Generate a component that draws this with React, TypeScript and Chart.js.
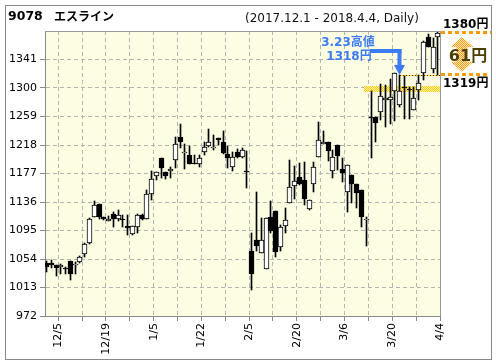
import React, { useEffect, useRef } from 'react';
import { Chart, registerables } from 'chart.js';
Chart.register(...registerables);

const dates = [
  '12/1','12/4','12/5','12/6','12/7','12/8','12/11','12/12','12/13','12/14','12/15','12/18','12/19','12/20','12/21','12/22','12/25','12/26','12/27','12/28','12/29',
  '1/4','1/5','1/9','1/10','1/11','1/12','1/15','1/16','1/17','1/18','1/19','1/22','1/23','1/24','1/25','1/26','1/29','1/30','1/31',
  '2/1','2/2','2/5','2/6','2/7','2/8','2/9','2/13','2/14','2/15','2/16','2/19','2/20','2/21','2/22','2/23','2/26','2/27','2/28',
  '3/1','3/2','3/5','3/6','3/7','3/8','3/9','3/12','3/13','3/14','3/15','3/16','3/19','3/20','3/22','3/23','3/26','3/27','3/28','3/29','3/30',
  '4/2','4/3','4/4',
];
const opens = [
  1048,1048,1045,1043,1041,1051,1046,1049,1061,1077,1115,1133,1114,1109,1119,1111,1112,1102,1090,1100,1118,
  1111,1148,1174,1199,1179,1181,1197,1229,1207,1204,1192,1190,1208,1216,1214,1228,1222,1205,1187,
  1208,1201,1180,1066,1081,1062,1039,1114,1123,1071,1102,1134,1159,1172,1168,1126,1162,1201,1219,
  1222,1180,1218,1183,1151,1175,1162,1153,1110,1258,1259,1266,1283,1283,1296,1276,1301,1299,1268,1297,1321,
  1374,1328,1374,
];
const highs = [
  1051,1052,1046,1047,1043,1051,1050,1059,1077,1113,1137,1133,1115,1116,1121,1125,1117,1117,1102,1119,1119,
  1153,1180,1179,1199,1179,1187,1230,1248,1219,1217,1204,1204,1222,1241,1232,1228,1238,1216,1208,
  1212,1213,1209,1092,1151,1113,1113,1137,1123,1103,1127,1197,1188,1192,1194,1139,1194,1251,1238,
  1222,1211,1218,1199,1189,1175,1162,1153,1115,1295,1259,1306,1305,1313,1322,1318,1317,1302,1302,1318,1367,
  1377,1372,1380,
];
const lows = [
  1036,1041,1030,1033,1032,1024,1033,1048,1057,1076,1114,1111,1110,1108,1100,1109,1100,1089,1089,1091,1110,
  1111,1139,1168,1170,1169,1170,1185,1213,1183,1190,1190,1187,1203,1215,1211,1218,1205,1185,1181,
  1200,1200,1156,1010,1065,1062,1039,1091,1057,1065,1092,1134,1141,1161,1132,1125,1151,1201,1219,
  1195,1171,1182,1165,1122,1134,1127,1100,1072,1199,1223,1254,1244,1248,1252,1273,1256,1256,1268,1283,1311,
  1359,1321,1318,
];
const closes = [
  1042,1046,1041,1046,1039,1032,1047,1057,1075,1111,1132,1115,1112,1112,1111,1117,1111,1098,1101,1118,1111,
  1147,1169,1179,1185,1174,1183,1219,1223,1208,1190,1190,1200,1215,1222,1215,1225,1207,1200,1201,
  1201,1211,1179,1032,1073,1082,1113,1095,1064,1100,1110,1157,1166,1162,1140,1139,1186,1225,1222,
  1210,1201,1202,1178,1189,1162,1149,1115,1111,1257,1249,1288,1286,1287,1322,1295,1300,1298,1285,1307,1366,
  1359,1359,1379,
];
const xLabelDates = ['12/5','12/19','1/5','1/22','2/5','2/20','3/6','3/20','4/4'];
const gridDates = ['12/5','12/12','12/19','12/26','1/5','1/15','1/22','1/29','2/5','2/13','2/20','2/27','3/6','3/13','3/20','3/28','4/4'];
const yTicks = [972, 1013, 1054, 1095, 1136, 1177, 1218, 1259, 1300, 1341];
const Y_MIN = 972;
const Y_MAX = 1382;
const highPrice = 1318;
const highDate = '3/23';
const breakoutPrice = 1319;
const topPrice = 1380;
const gainText = '61円';
const bandLow = 1295.5;
const bandHigh = 1303.5;
const bandStart = 66.6;
const titleCode = '9078';
const titleName = 'エスライン';
const periodText = '(2017.12.1 - 2018.4.4, Daily)';

const GRID_SHIFT = 0.45;

function makeChecker(ctx: CanvasRenderingContext2D, c1: string, c2: string) {
  const p = document.createElement('canvas');
  p.width = 2; p.height = 2;
  const g = p.getContext('2d')!;
  g.fillStyle = c2; g.fillRect(0, 0, 2, 2);
  g.fillStyle = c1; g.fillRect(0, 0, 1, 1); g.fillRect(1, 1, 1, 1);
  return ctx.createPattern(p, 'repeat')!;
}

const decor = {
  id: 'decor',
  beforeDraw(chart: any) {
    const { ctx, chartArea: a } = chart;
    ctx.save();
    ctx.fillStyle = '#ffffff';
    ctx.fillRect(0, 0, chart.width, chart.height);
    ctx.fillStyle = '#fdfde2';
    ctx.fillRect(a.left, a.top, a.right - a.left, a.bottom - a.top);
    ctx.strokeStyle = '#888';
    ctx.lineWidth = 1;
    ctx.strokeRect(5.5, 5.5, 486, 354);
    ctx.restore();
  },
  beforeDatasetsDraw(chart: any) {
    const { ctx, chartArea: a, scales } = chart;
    const xs = scales.x, ys = scales.y;
    // snap candle elements to the pixel grid so they render crisply
    chart.getSortedVisibleDatasetMetas().forEach((meta: any) => {
      meta.data.forEach((el: any) => {
        el.x = Math.floor(el.x) + 0.5;
        el.y = Math.round(el.y);
        el.base = Math.round(el.base);
        if (Math.abs(el.base - el.y) < 1) el.base = el.y + 1;
      });
    });
    ctx.save();
    // yellow band
    const bx = xs.getPixelForValue(bandStart);
    const by1 = ys.getPixelForValue(bandHigh);
    const by2 = ys.getPixelForValue(bandLow);
    ctx.fillStyle = makeChecker(ctx, '#ffc800', '#fff4b0');
    ctx.fillRect(Math.round(bx), Math.round(by1), Math.round(a.right - bx), Math.round(by2 - by1));
    // dotted line at high price
    const hx = xs.getPixelForValue(dates.indexOf(highDate));
    const hy = Math.round(ys.getPixelForValue(highPrice)) + 0.5;
    ctx.strokeStyle = '#ffd400';
    ctx.lineWidth = 1;
    ctx.beginPath(); ctx.moveTo(Math.round(hx), hy); ctx.lineTo(a.right, hy); ctx.stroke();
    ctx.strokeStyle = '#333';
    ctx.setLineDash([1, 2]);
    ctx.beginPath(); ctx.moveTo(Math.round(hx), hy); ctx.lineTo(a.right, hy); ctx.stroke();
    ctx.setLineDash([]);
    ctx.restore();
  },
  afterDraw(chart: any) {
    const { ctx, chartArea: a, scales } = chart;
    const xs = scales.x, ys = scales.y;
    ctx.save();
    // plot top/right border
    ctx.strokeStyle = '#999';
    ctx.lineWidth = 1;
    ctx.beginPath();
    ctx.moveTo(Math.round(a.left), Math.round(a.top) + 0.5);
    ctx.lineTo(Math.round(a.right) + 0.5, Math.round(a.top) + 0.5);
    ctx.lineTo(Math.round(a.right) + 0.5, Math.round(a.bottom));
    ctx.stroke();

    // title
    ctx.fillStyle = '#000';
    ctx.textBaseline = 'middle';
    ctx.textAlign = 'left';
    ctx.font = 'bold 12.5px "DejaVu Sans", "Noto Sans CJK JP", sans-serif';
    ctx.fillText(titleCode, 8, 16.5);
    ctx.font = 'bold 12px "Noto Sans CJK JP", sans-serif';
    ctx.fillText(titleName, 54, 16.5);
    ctx.font = '12px "DejaVu Sans", sans-serif';
    ctx.fillStyle = '#111';
    ctx.fillText(periodText, 245, 19);

    // blue annotation
    const hx = xs.getPixelForValue(dates.indexOf(highDate));
    const hy = ys.getPixelForValue(highPrice);
    const blue = '#3b7cf4';
    ctx.fillStyle = blue;
    const cx = Math.round(hx) - 0.5;
    ctx.fillRect(370, 49, cx + 2 - 370, 4);
    ctx.fillRect(cx - 2, 49, 4, 16);
    ctx.beginPath();
    ctx.moveTo(cx - 5.5, 65);
    ctx.lineTo(cx + 5.5, 65);
    ctx.lineTo(cx, hy - 0.5);
    ctx.closePath();
    ctx.fill();
    ctx.font = 'bold 12px "DejaVu Sans", "Noto Sans CJK JP", sans-serif';
    ctx.textAlign = 'center';
    ctx.fillText('3.23高値', 348, 43);
    ctx.fillText(`${highPrice}円`, 349, 57);

    // right side bracket
    const yTop = ys.getPixelForValue(topPrice);
    const yBot = ys.getPixelForValue(breakoutPrice);
    ctx.strokeStyle = '#ff9a00';
    ctx.lineWidth = 3;
    ctx.setLineDash([4, 3]);
    ctx.beginPath();
    ctx.moveTo(441, Math.round(yTop) + 0.5); ctx.lineTo(491, Math.round(yTop) + 0.5);
    ctx.moveTo(441, Math.round(yBot) - 0.5); ctx.lineTo(490, Math.round(yBot) - 0.5);
    ctx.stroke();
    ctx.setLineDash([]);

    // orange double arrow
    const ax = 462;
    const t = yTop + 4.5, b = yBot - 3;
    ctx.fillStyle = makeChecker(ctx, '#ff9a00', '#ffe8c0');
    ctx.beginPath();
    ctx.moveTo(ax, t);
    ctx.lineTo(ax + 11.5, t + 10);
    ctx.lineTo(ax + 5.5, t + 10);
    ctx.lineTo(ax + 5.5, b - 10);
    ctx.lineTo(ax + 11.5, b - 10);
    ctx.lineTo(ax, b);
    ctx.lineTo(ax - 11.5, b - 10);
    ctx.lineTo(ax - 5.5, b - 10);
    ctx.lineTo(ax - 5.5, t + 10);
    ctx.lineTo(ax - 11.5, t + 10);
    ctx.closePath();
    ctx.fill();

    ctx.fillStyle = '#000';
    ctx.textAlign = 'left';
    ctx.font = 'bold 12px "DejaVu Sans", "Noto Sans CJK JP", sans-serif';
    ctx.fillText(`${topPrice}円`, 443, yTop - 8);
    ctx.fillText(`${breakoutPrice}円`, 443, yBot + 9.5);

    ctx.fillStyle = '#4b4000';
    ctx.textAlign = 'center';
    ctx.font = 'bold 16px "DejaVu Sans", "Noto Sans CJK JP", sans-serif';
    ctx.fillText(gainText, 468, (yTop + yBot) / 2 + 3);
    ctx.restore();
  },
};

export default function App() {
  const ref = useRef<HTMLCanvasElement | null>(null);
  useEffect(() => {
    const canvas = ref.current!;
    const bodyData = dates.map((_, i) => ({ x: i, y: [opens[i], closes[i]] }));
    const wickData = dates.map((_, i) => ({ x: i, y: [lows[i], highs[i]] }));
    const gridIdx = gridDates.map((d) => dates.indexOf(d));
    const chart = new Chart(canvas, {
      type: 'bar',
      data: {
        datasets: [
          {
            label: 'body',
            data: bodyData as any,
            backgroundColor: closes.map((c, i) => (c >= opens[i] ? '#ffffff' : '#000000')),
            borderColor: '#000',
            borderWidth: 1,
            borderSkipped: false,
            barThickness: 5,
            grouped: false,
          } as any,
          {
            label: 'wick',
            data: wickData as any,
            backgroundColor: '#000',
            borderWidth: 0,
            barThickness: 1,
            grouped: false,
          } as any,
        ],
      },
      options: {
        animation: false,
        responsive: false,
        devicePixelRatio: 1,
        layout: { padding: { left: 0, top: 31, right: 56, bottom: 0 } },
        plugins: { legend: { display: false }, tooltip: { enabled: false } },
        scales: {
          x: {
            type: 'linear',
            min: -0.33,
            max: 82.45,
            offset: false,
            afterBuildTicks: (s: any) => {
              s.ticks = gridIdx.map((v) => ({ value: v + GRID_SHIFT }));
            },
            afterFit: (s: any) => {
              s.height = 48;
              s.paddingLeft = 0;
              s.paddingRight = 0;
            },
            ticks: {
              autoSkip: false,
              minRotation: 90,
              maxRotation: 90,
              padding: 2,
              color: '#000',
              font: { family: 'DejaVu Sans', size: 11 },
              callback: (v: any) => {
                const d = dates[Math.round(Number(v) - GRID_SHIFT)];
                return xLabelDates.includes(d) ? d : '';
              },
            },
            grid: { offset: false, color: '#b4b4b4', tickColor: '#888', tickLength: 5 },
            border: { color: '#888', dash: [4, 3] },
          },
          y: {
            type: 'linear',
            min: Y_MIN,
            max: Y_MAX,
            afterBuildTicks: (s: any) => {
              s.ticks = yTicks.map((v) => ({ value: v }));
            },
            afterFit: (s: any) => {
              s.width = 45;
            },
            ticks: {
              padding: 3,
              color: '#000',
              font: { family: 'DejaVu Sans', size: 11 },
              callback: (v: any) => String(v),
            },
            grid: { color: '#b4b4b4', tickColor: '#888', tickLength: 5 },
            border: { color: '#888', dash: [4, 3] },
          },
        },
      } as any,
      plugins: [decor],
    });
    return () => chart.destroy();
  }, []);
  return (
    <div style={{ position: 'absolute', left: 0, top: 0, width: 496, height: 364 }}>
      <canvas ref={ref} width={496} height={364} style={{ display: 'block', width: 496, height: 364 }} />
    </div>
  );
}
